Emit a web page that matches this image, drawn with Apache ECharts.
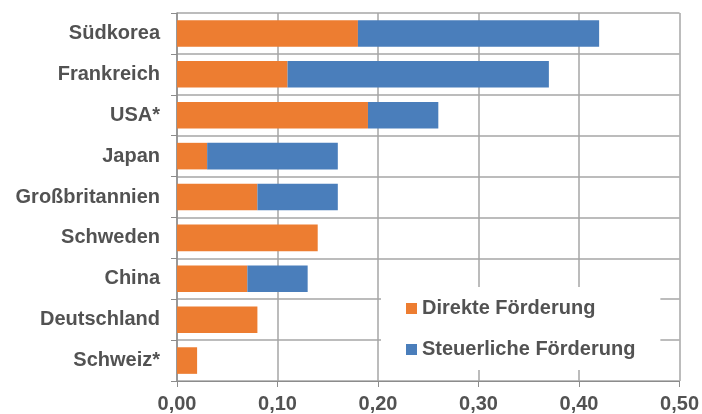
<!DOCTYPE html>
<html><head><meta charset="utf-8">
<script src="https://cdn.jsdelivr.net/npm/echarts@6/dist/echarts.min.js"></script>
<style>html,body{margin:0;padding:0;background:#fff}#c{width:702px;height:414px}</style>
</head><body><div id="c"></div>
<script>
const categories = ['Südkorea','Frankreich','USA*','Japan','Großbritannien','Schweden','China','Deutschland','Schweiz*'];
const direkte = [0.18, 0.11, 0.19, 0.03, 0.08, 0.14, 0.07, 0.08, 0.02];
const steuerliche = [0.24, 0.26, 0.07, 0.13, 0.08, 0, 0.06, 0, 0];
const seriesNames = ['Direkte Förderung', 'Steuerliche Förderung'];
const xTicks = [0, 0.1, 0.2, 0.3, 0.4, 0.5];

const txt = '#525252';
const font = '"Liberation Sans", Arial, sans-serif';
const chart = echarts.init(document.getElementById('c'));
chart.setOption({
  animation: false,
  textStyle: { fontFamily: font },
  grid: { left: 177, right: 21, top: 13, bottom: 32 },
  xAxis: {
    type: 'value', min: xTicks[0], max: xTicks[xTicks.length - 1], interval: 0.1,
    axisLine: { show: true, lineStyle: { color: '#8c8c8c', width: 1 } },
    axisTick: { show: true, length: 6, lineStyle: { color: '#8c8c8c' } },
    splitLine: { show: true, lineStyle: { color: '#a6a6a6', width: 1.5 } },
    axisLabel: { color: txt, fontSize: 20, fontWeight: 'bold', fontFamily: font, margin: 13,
      formatter: v => v.toFixed(2).replace('.', ',') }
  },
  yAxis: {
    type: 'category', data: categories, inverse: true,
    axisLine: { show: true, lineStyle: { color: '#8c8c8c', width: 1.5 } },
    axisTick: { show: true, length: 6, lineStyle: { color: '#8c8c8c' } },
    splitLine: { show: true, lineStyle: { color: '#a6a6a6', width: 1.5 } },
    axisLabel: { color: txt, fontSize: 20, fontWeight: 'bold', fontFamily: font, margin: 17 }
  },
  legend: {
    orient: 'vertical', left: 381, top: 287,
    padding: [11, 25, 10, 25], backgroundColor: '#fff',
    itemWidth: 11, itemHeight: 11, itemGap: 20,
    icon: 'rect',
    textStyle: { color: txt, fontSize: 20, fontWeight: 'bold', fontFamily: font, lineHeight: 21 },
    data: seriesNames
  },
  series: [
    { name: seriesNames[0], type: 'bar', stack: 's', data: direkte, barCategoryGap: '35%',
      itemStyle: { color: '#ED7D31' } },
    { name: seriesNames[1], type: 'bar', stack: 's', data: steuerliche, barCategoryGap: '35%',
      itemStyle: { color: '#4A7EBB' } }
  ]
});
</script></body></html>
